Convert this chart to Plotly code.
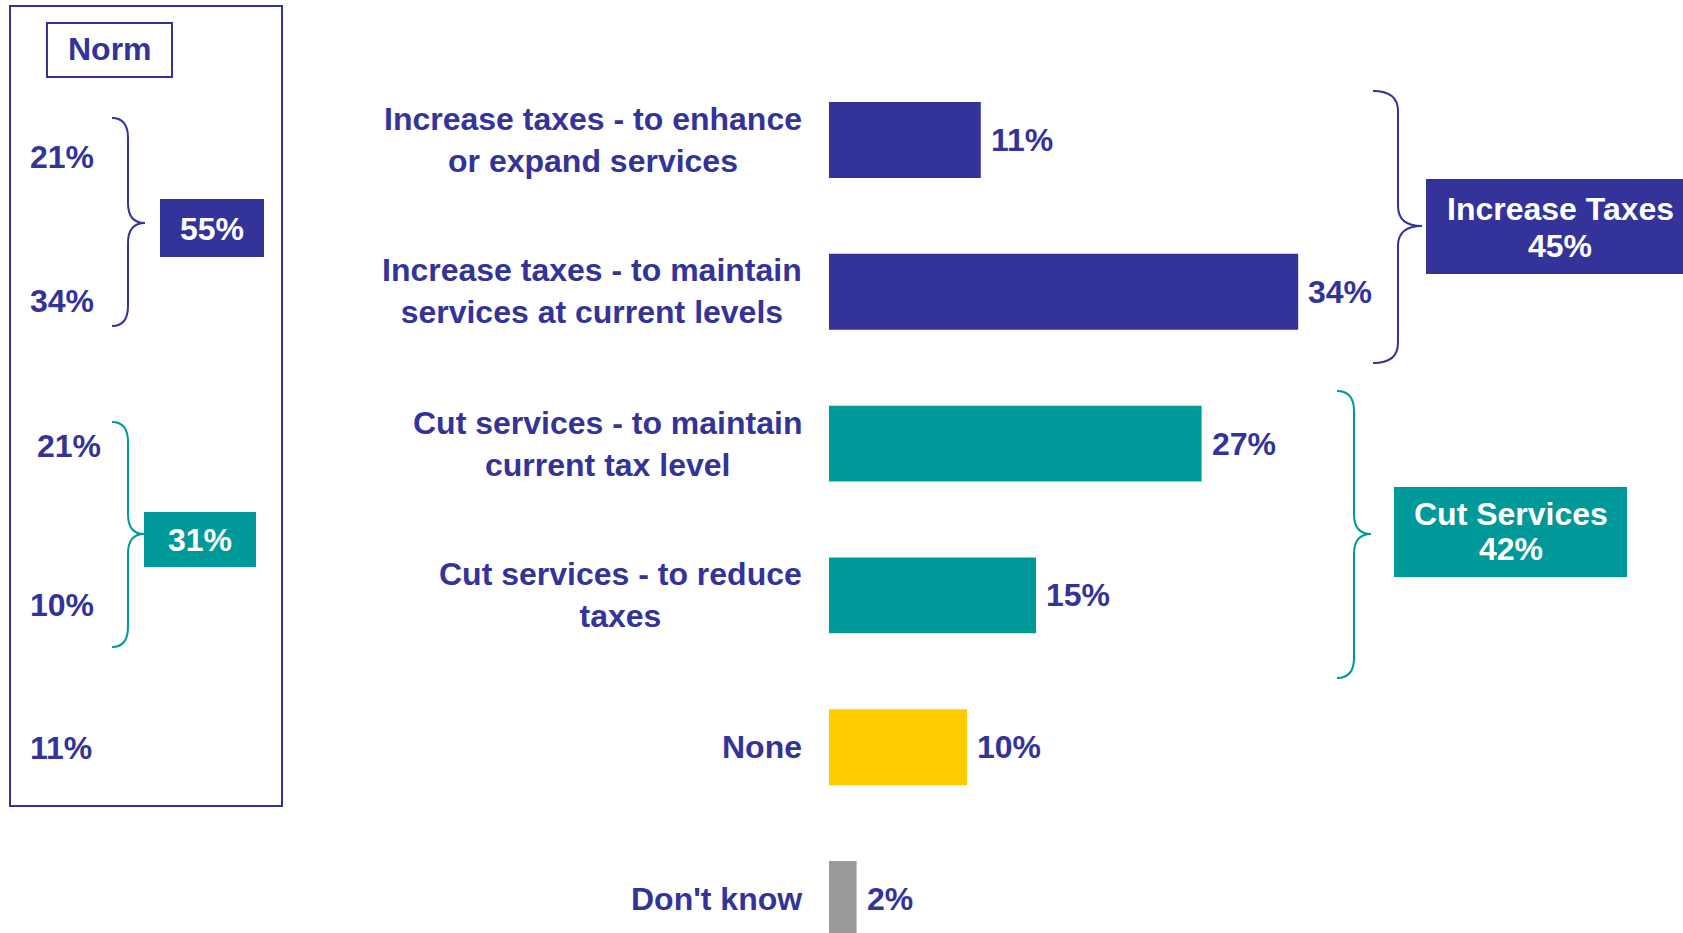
import plotly.graph_objects as go

# ---------------- data ----------------
categories = [
    "Increase taxes - to enhance<br>or expand services",
    "Increase taxes - to maintain<br>services at current levels",
    "Cut services - to maintain<br>current tax level",
    "Cut services - to reduce<br>taxes",
    "None",
    "Don't know",
]
values = [11, 34, 27, 15, 10, 2]
bar_colors = ["#333399", "#333399", "#009999", "#009999", "#FFCC00", "#999999"]

group_labels = ["Increase Taxes", "Cut Services"]
group_totals = [45, 42]

norm_values = [21, 34, 21, 10, 11]
norm_group_totals = [55, 31]

# ---------------- layout constants ----------------
W, H = 1683, 933
NAVY = "#333399"
TEAL = "#009999"
FONT = "Liberation Sans, Arial, Helvetica, sans-serif"
FS = 32

X0 = 829.0        # pixel of value 0
PXPER = 13.8      # pixels per percent
Y0 = 140.0        # pixel centre of first bar
STEP = 151.8      # pixel step between bars


def fx(p):
    return p / W


def fy(p):
    return 1 - p / H


def P(x, y):
    return f"{fx(x):.5f},{fy(y):.5f}"


fig = go.Figure()
fig.add_trace(go.Bar(
    x=values,
    y=list(range(len(values))),
    orientation="h",
    width=0.5,
    marker=dict(color=bar_colors, line=dict(width=0)),
    hoverinfo="skip",
    showlegend=False,
))

annotations = []
shapes = []

# category labels and values
for i, (cat, v) in enumerate(zip(categories, values)):
    annotations.append(dict(
        x=0, y=i, xref="x", yref="y", text=cat, showarrow=False,
        xanchor="right", yanchor="middle", align="center", xshift=-25,
        yshift=1 if i == 1 else 0,
        font=dict(family=FONT, size=FS, color=NAVY, weight="bold"),
    ))
    annotations.append(dict(
        x=v, y=i, xref="x", yref="y", text=f"{v}%", showarrow=False,
        xanchor="left", yanchor="middle", xshift=8,
        font=dict(family=FONT, size=FS, color=NAVY, weight="bold"),
    ))


def brace(x_end, x_v, x_tip, y_top, y_tip, y_bot, color, r=20):
    path = (
        f"M {P(x_end, y_top)} Q {P(x_v, y_top)} {P(x_v, y_top + r)} "
        f"L {P(x_v, y_tip - r)} Q {P(x_v, y_tip)} {P(x_tip, y_tip)} "
        f"Q {P(x_v, y_tip)} {P(x_v, y_tip + r)} "
        f"L {P(x_v, y_bot - r)} Q {P(x_v, y_bot)} {P(x_end, y_bot)}"
    )
    return dict(type="path", path=path, xref="paper", yref="paper",
                line=dict(color=color, width=2), fillcolor="rgba(0,0,0,0)")


def rect(x1, y1, x2, y2, fill=None, line_color=None, lw=2):
    d = dict(type="rect", xref="paper", yref="paper",
             x0=fx(x1), x1=fx(x2), y0=fy(y2), y1=fy(y1), layer="above")
    if fill:
        d["fillcolor"] = fill
        d["line"] = dict(width=0)
    else:
        d["fillcolor"] = "rgba(0,0,0,0)"
        d["line"] = dict(color=line_color, width=lw)
    return d


def text(x, y, t, color=NAVY, xanchor="center"):
    return dict(x=fx(x), y=fy(y), xref="paper", yref="paper", text=t,
                showarrow=False, xanchor=xanchor, yanchor="middle",
                font=dict(family=FONT, size=FS, color=color, weight="bold"))


# ---- right side group braces and boxes ----
shapes.append(brace(1373, 1398, 1422, 91, 226, 363, NAVY))
shapes.append(brace(1337, 1354, 1371, 391, 534, 678, TEAL))
shapes.append(rect(1426, 179, 1700, 274, fill=NAVY))
shapes.append(rect(1394, 487, 1627, 577, fill=TEAL))
annotations.append(text(1560, 209, group_labels[0], "white"))
annotations.append(text(1560, 246, f"{group_totals[0]}%", "white"))
annotations.append(text(1511, 514, group_labels[1], "white"))
annotations.append(text(1511, 549, f"{group_totals[1]}%", "white"))

# ---- left Norm panel ----
shapes.append(rect(10, 6, 282, 806, line_color=NAVY, lw=2))
shapes.append(rect(47, 23, 172, 77, line_color=NAVY, lw=2))
annotations.append(text(110, 49, "Norm"))

norm_y = [157, 301, 446, 605, 748]
norm_x = [27.5, 27.5, 34.5, 27.5, 27.5]
for nx, ny, nv in zip(norm_x, norm_y, norm_values):
    annotations.append(text(nx, ny, f"{nv}%", xanchor="left"))

shapes.append(brace(112, 128, 145, 118, 223, 326, NAVY))
shapes.append(brace(112, 128, 144, 422, 534, 647, TEAL))
shapes.append(rect(160, 199, 264, 257, fill=NAVY))
shapes.append(rect(144, 512, 256, 567, fill=TEAL))
annotations.append(text(212, 229, f"{norm_group_totals[0]}%", "white"))
annotations.append(text(200, 540, f"{norm_group_totals[1]}%", "white"))

fig.update_layout(
    width=W, height=H,
    margin=dict(l=0, r=0, t=0, b=0, pad=0),
    paper_bgcolor="white", plot_bgcolor="white",
    xaxis=dict(range=[-X0 / PXPER, (W - X0) / PXPER], visible=False,
               fixedrange=True),
    yaxis=dict(range=[(H - Y0) / STEP, -Y0 / STEP], visible=False,
               fixedrange=True),
    annotations=annotations,
    shapes=shapes,
    showlegend=False,
)

fig.write_html(
    "out.html",
    config={"displayModeBar": False},
    post_script="document.body.style.margin='0';document.body.style.overflow='hidden';",
)
